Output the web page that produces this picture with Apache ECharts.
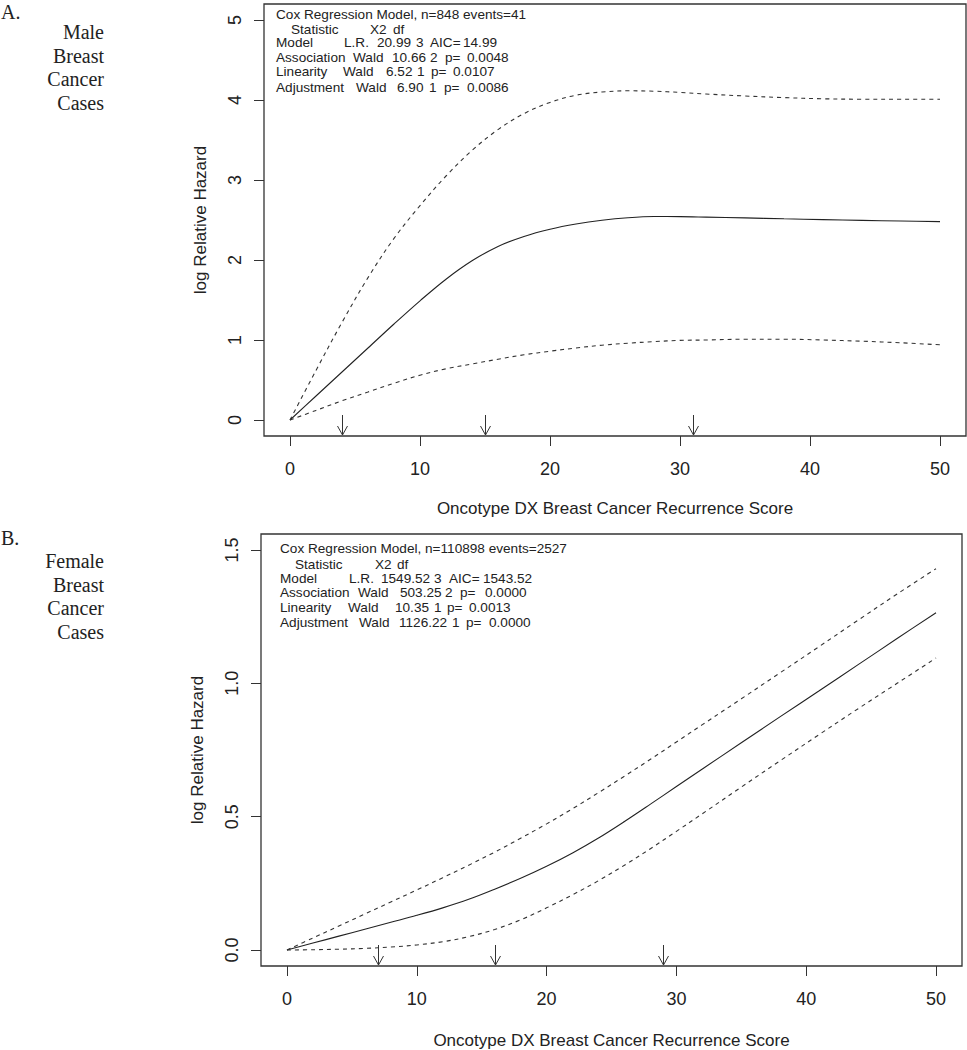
<!DOCTYPE html>
<html><head><meta charset="utf-8">
<script src="https://cdn.jsdelivr.net/npm/echarts@6/dist/echarts.min.js"></script>
<style>html,body{margin:0;padding:0;background:#fff}#c{width:967px;height:1050px}</style>
</head><body><div id="c"></div>
<script>
// ---------- data ----------
const scoreX = [0,2,4,6,8,10,12,14,16,18,20,22,24,26,28,30,32,35,38,41,44,47,50];
const xTicks = [0,10,20,30,40,50];

// Panel A: Male
const fitA   = [0,0.30,0.60,0.90,1.20,1.49,1.76,1.99,2.17,2.295,2.385,2.45,2.497,2.528,2.543,2.542,2.536,2.526,2.515,2.505,2.495,2.487,2.48];
const upperA = [0,0.62,1.22,1.78,2.27,2.68,3.05,3.37,3.63,3.83,3.97,4.06,4.10,4.115,4.11,4.095,4.075,4.05,4.03,4.015,4.01,4.01,4.01];
const lowerA = [0,0.12,0.24,0.35,0.46,0.56,0.64,0.70,0.76,0.815,0.86,0.90,0.935,0.96,0.98,0.995,1.00,1.01,1.01,1.00,0.985,0.965,0.94];
const knotsA = [4,15,31];
const yTicksA = [0,1,2,3,4,5];

// Panel B: Female
const fitB   = [0,0.026,0.052,0.078,0.104,0.13,0.158,0.19,0.228,0.269,0.314,0.364,0.42,0.482,0.547,0.613,0.679,0.777,0.875,0.972,1.07,1.168,1.265];
const upperB = [0,0.045,0.09,0.135,0.18,0.225,0.271,0.318,0.367,0.419,0.473,0.53,0.59,0.652,0.715,0.78,0.845,0.942,1.04,1.138,1.237,1.335,1.43];
const lowerB = [0,0.001,0.003,0.006,0.011,0.019,0.031,0.05,0.077,0.113,0.158,0.207,0.26,0.318,0.38,0.445,0.511,0.611,0.71,0.808,0.905,1.0,1.095];
const knotsB = [7,16,29];
const yTicksB = [0,0.5,1.0,1.5];

const xTitle = 'Oncotype DX Breast Cancer Recurrence Score';
const yTitle = 'log Relative Hazard';
const panelTagA = 'A.';
const panelTagB = 'B.';
const groupA = ['Male','Breast','Cancer','Cases'];
const groupB = ['Female','Breast','Cancer','Cases'];

const noteA = [
  ['Cox Regression Model, n=848 events=41'],
  ['Statistic','X2','df'],
  ['Model','L.R.','20.99','3','AIC=','14.99'],
  ['Association','Wald','10.66','2','p=','0.0048'],
  ['Linearity','Wald','6.52','1','p=','0.0107'],
  ['Adjustment','Wald','6.90','1','p=','0.0086']
];
const noteB = [
  ['Cox Regression Model, n=110898 events=2527'],
  ['Statistic','X2','df'],
  ['Model','L.R.','1549.52','3','AIC=','1543.52'],
  ['Association','Wald','503.25','2','p=','0.0000'],
  ['Linearity','Wald','10.35','1','p=','0.0013'],
  ['Adjustment','Wald','1126.22','1','p=','0.0000']
];

// ---------- layout (not data) ----------
const SANS = '"Liberation Sans", Arial, sans-serif';
const SERIF = '"Liberation Serif", "Times New Roman", serif';
const INK = '#222';
const colsA = [[0],[15,94,117],[0,68,101,140,154,187],[0,77,116,154,169,191],[0,67,110,141,155,177],[0,80,121,153,168,191]];
const rowsA = [14,29,42,57,71,87];
const colsB = [[0],[15,95,117],[0,69,101,154,169,203],[0,78,120,165,180,205],[0,68,115,154,167,189],[0,79,119,172,186,209]];
const rowsB = [548,564,578,592,607,622];

const pairs = (ys) => scoreX.map((x,i) => [x, ys[i]]);

function xAxisFor(gi){
  return {
    gridIndex: gi, type:'value', min:-2, max:52, position:'bottom',
    axisLine:{show:false, onZero:false},
    axisTick:{show:true, inside:false, customValues:xTicks, length:10, lineStyle:{color:'#333', width:1}},
    axisLabel:{customValues:xTicks, margin:24, fontSize:18, fontFamily:SANS, color:INK},
    splitLine:{show:false},
    name:xTitle, nameLocation:'middle', nameGap:gi===0?64:66,
    nameTextStyle:{fontSize:17, fontFamily:SANS, color:INK}
  };
}
function yAxisFor(gi, min, max, ticks, dec){
  return {
    gridIndex: gi, type:'value', min:min, max:max, position:'left',
    axisLine:{show:false, onZero:false},
    axisTick:{show:true, inside:false, customValues:ticks, length:10, lineStyle:{color:'#333', width:1}},
    axisLabel:{customValues:ticks, rotate:90, margin:20, fontSize:18, fontFamily:SANS, color:INK,
               formatter:(v)=>Number(v).toFixed(dec)},
    splitLine:{show:false},
    name:yTitle, nameLocation:'middle', nameRotate:90, nameGap:55,
    nameTextStyle:{fontSize:17, fontFamily:SANS, color:INK}
  };
}
function lineSeries(gi, ys, dashed){
  return {
    type:'line', xAxisIndex:gi, yAxisIndex:gi, data:pairs(ys),
    symbol:'none', showSymbol:false, smooth:0.35, silent:true,
    lineStyle:{color: dashed ? '#333' : '#222', width:1.1, type: dashed ? [4,4] : 'solid'}
  };
}
function arrowSeries(gi, knots){
  return {
    type:'custom', xAxisIndex:gi, yAxisIndex:gi, clip:false, silent:true,
    data: knots.map(k => [k, 0]), encode:{x:0, y:1},
    renderItem:(params, api) => {
      const cs = params.coordSys;
      const px = Math.round(api.coord([api.value(0), 0])[0]) + 0.5;
      const tip = cs.y + cs.height - 1;
      const top = tip - 20;
      return {type:'group', children:[
        {type:'line', shape:{x1:px,y1:top,x2:px,y2:tip}, style:{stroke:'#333', lineWidth:1}},
        {type:'polyline', shape:{points:[[px-5,tip-9],[px,tip],[px+5,tip-9]]}, style:{stroke:'#333', fill:null, lineWidth:1}}
      ]};
    }
  };
}
function txt(text, x, y, font, align){
  return {type:'text', x:x, y:y, silent:true,
    style:{text:text, font:font, fill:INK, align:align||'left', verticalAlign:'middle',
           textAlign:align||'left', textVerticalAlign:'middle'}};
}
function noteElems(note, cols, rows, baseX){
  const out = [];
  note.forEach((tokens, r) => tokens.forEach((t, c) => {
    out.push(txt(t, baseX + cols[r][c], rows[r], '13.6px ' + SANS));
  }));
  return out;
}
const graphics = [].concat(
  [txt(panelTagA, 1, 12, '20px ' + SERIF)],
  groupA.map((w,i) => txt(w, 104, 32 + i*23.7, '20px ' + SERIF, 'right')),
  [txt(panelTagB, 1, 538, '20px ' + SERIF)],
  groupB.map((w,i) => txt(w, 104, 561 + i*23.7, '20px ' + SERIF, 'right')),
  noteElems(noteA, colsA, rowsA, 276),
  noteElems(noteB, colsB, rowsB, 280)
);

const chart = echarts.init(document.getElementById('c'), null, {renderer:'svg'});
chart.setOption({
  animation:false,
  backgroundColor:'#fff',
  grid:[
    {left:264, top:4, width:702, height:432, show:true, borderColor:'#333', borderWidth:1.3, backgroundColor:'transparent'},
    {left:261, top:534, width:701, height:432, show:true, borderColor:'#333', borderWidth:1.3, backgroundColor:'transparent'}
  ],
  xAxis:[xAxisFor(0), xAxisFor(1)],
  yAxis:[yAxisFor(0, -0.2, 5.2, yTicksA, 0), yAxisFor(1, -0.06, 1.56, yTicksB, 1)],
  series:[
    lineSeries(0, fitA, false), lineSeries(0, upperA, true), lineSeries(0, lowerA, true), arrowSeries(0, knotsA),
    lineSeries(1, fitB, false), lineSeries(1, upperB, true), lineSeries(1, lowerB, true), arrowSeries(1, knotsB)
  ],
  graphic: graphics
});
</script></body></html>
